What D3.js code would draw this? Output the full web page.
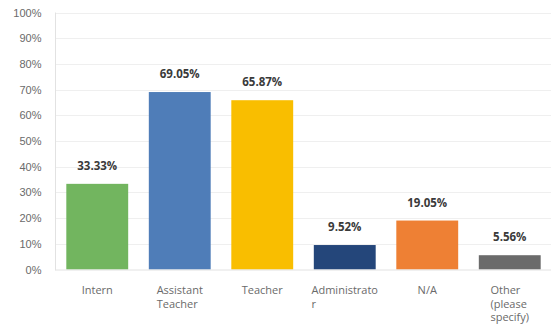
<!DOCTYPE html>
<html>
<head>
<meta charset="utf-8">
<script src="https://cdn.jsdelivr.net/npm/d3@7/dist/d3.min.js"></script>
<style>
  html, body { margin: 0; padding: 0; background: #fff; }
  svg { display: block; font-family: "Open Sans", "Noto Sans", sans-serif; }
</style>
</head>
<body>
<svg id="chart" width="555" height="326"></svg>
<script>
// Survey responses by role (percent of respondents)
const categories = ["Intern", "Assistant Teacher", "Teacher", "Administrator", "N/A", "Other (please specify)"];
const labelLines = [["Intern"], ["Assistant", "Teacher"], ["Teacher"], ["Administrato", "r"], ["N/A"], ["Other", "(please", "specify)"]];
const values = [33.33, 69.05, 65.87, 9.52, 19.05, 5.56];
const colors = ["#72b55f", "#4f7db8", "#f9be00", "#24467a", "#ee8034", "#6b6b6b"];
const yTicks = [0, 10, 20, 30, 40, 50, 60, 70, 80, 90, 100];

const svg = d3.select("#chart");
const margin = { left: 56, right: 4, top: 12.5, bottom: 56.5 };
const W = 555, H = 326;

const x = d3.scaleBand()
  .domain(categories)
  .range([margin.left, W - margin.right])
  .paddingInner(0.25)
  .paddingOuter(0.125);

const y = d3.scaleLinear()
  .domain([0, 100])
  .range([H - margin.bottom, margin.top]);

// Horizontal gridlines
svg.append("g")
  .selectAll("line")
  .data(yTicks.filter(d => d > 0))
  .join("line")
  .attr("x1", margin.left)
  .attr("x2", W - margin.right)
  .attr("y1", d => Math.round(y(d)) + 0.5)
  .attr("y2", d => Math.round(y(d)) + 0.5)
  .attr("stroke", "#efefef")
  .attr("stroke-width", 1);

// Y axis labels
const yAxis = d3.axisLeft(y).tickValues(yTicks).tickFormat(d => d + "%").tickSize(0).tickPadding(14);
const gy = svg.append("g").attr("transform", `translate(${margin.left - 0.5},0)`).call(yAxis);
gy.select(".domain").remove();
gy.selectAll("text").attr("fill", "#6a6a6a").style("font-size", "11px");

// Bars
svg.append("g")
  .selectAll("rect")
  .data(values)
  .join("rect")
  .attr("x", (d, i) => x(categories[i]))
  .attr("width", x.bandwidth())
  .attr("y", d => y(d))
  .attr("height", d => y(0) - y(d))
  .attr("fill", (d, i) => colors[i]);

// Axis frame lines
svg.append("line")
  .attr("x1", margin.left - 0.5).attr("x2", margin.left - 0.5)
  .attr("y1", margin.top).attr("y2", y(0) + 1)
  .attr("stroke", "#e2e2e2");
svg.append("line")
  .attr("x1", margin.left - 0.5).attr("x2", W - margin.right)
  .attr("y1", y(0) + 0.5).attr("y2", y(0) + 0.5)
  .attr("stroke", "#e2e2e2");

// Value labels above bars
svg.append("g")
  .selectAll("text")
  .data(values)
  .join("text")
  .attr("x", (d, i) => x(categories[i]) + x.bandwidth() / 2)
  .attr("y", d => y(d) - 14)
  .attr("text-anchor", "middle")
  .attr("fill", "#3a3a3a")
  .style("font-size", "11.5px")
  .style("font-weight", "bold")
  .text(d => d.toFixed(2) + "%");

// Category labels: left-aligned block, centered under each bar
const catG = svg.append("g");
labelLines.forEach((lines, i) => {
  const cx = x(categories[i]) + x.bandwidth() / 2;
  const t = catG.append("text")
    .attr("fill", "#6a6a6a")
    .style("font-size", "11px");
  lines.forEach((ln, j) => {
    t.append("tspan").attr("y", 294 + j * 13.5).text(ln);
  });
  let maxW = 0;
  t.selectAll("tspan").each(function () { maxW = Math.max(maxW, this.getComputedTextLength()); });
  t.selectAll("tspan").attr("x", cx - maxW / 2);
});
</script>
</body>
</html>
